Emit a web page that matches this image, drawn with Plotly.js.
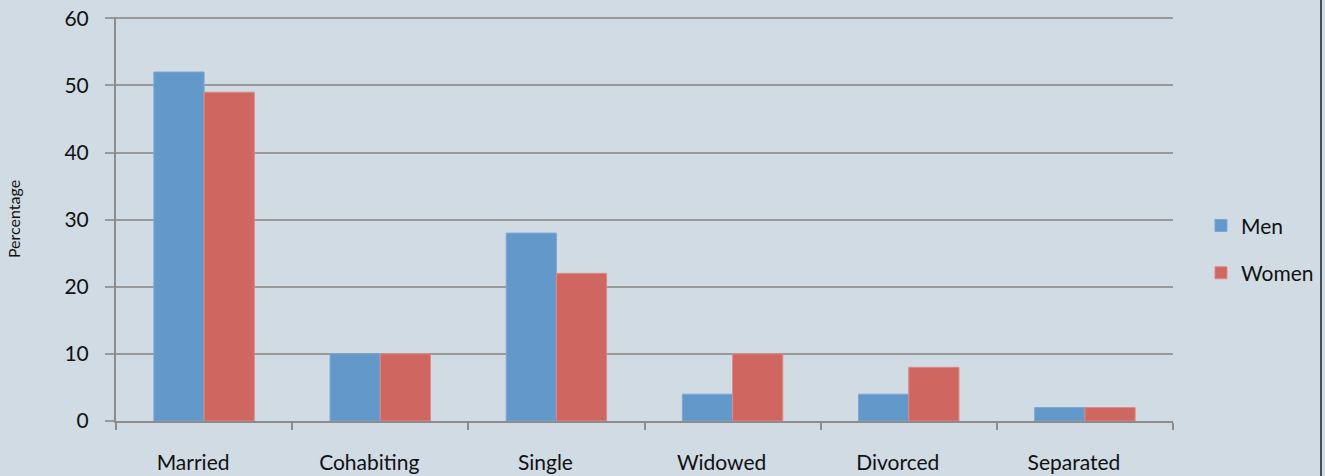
<!DOCTYPE html>
<html>
<head>
<meta charset="utf-8">
<script src="https://cdn.plot.ly/plotly-3.0.1.min.js"></script>
<style>
html,body{margin:0;padding:0;background:#D0DBE4;}
#wrap{position:relative;width:1325px;height:476px;}
#chart{width:1325px;height:476px;}
#edge{position:absolute;left:1320px;top:0;width:2px;height:476px;background:#4a4f55;pointer-events:none;}
</style>
</head>
<body>
<div id="wrap"><div id="chart"></div><div id="edge"></div></div>
<script>
const categories = ["Married", "Cohabiting", "Single", "Widowed", "Divorced", "Separated"];
const menValues = [52, 10, 28, 4, 4, 2];
const womenValues = [49, 10, 22, 10, 8, 2];
const yTicks = [0, 10, 20, 30, 40, 50, 60];

const bg = "#D0DBE4";
const fontFam = "Lato, 'Open Sans', sans-serif";

const traces = [
  {type: "bar", name: "Men", x: categories, y: menValues, legendgroup: "m",
   marker: {color: "#6298CA", line: {color: "#7aa8d4", width: 1}}},
  {type: "bar", name: "Women", x: categories, y: womenValues, legendgroup: "w",
   marker: {color: "#CF665F", line: {color: "#dd8a84", width: 1}}}
];

const layout = {
  width: 1325, height: 476,
  paper_bgcolor: bg, plot_bgcolor: bg,
  margin: {l: 116, r: 152, t: 17, b: 55, autoexpand: false},
  barmode: "group", bargap: 0.43, bargroupgap: 0,
  font: {family: fontFam, size: 21, color: "#111"},
  xaxis: {
    type: "category", tickson: "boundaries", ticks: "outside", ticklen: 7,
    tickcolor: "#8c8c8c", tickwidth: 2, showline: true, linecolor: "#8c8c8c", linewidth: 2,
    showgrid: false, tickfont: {size: 21}, ticklabelstandoff: 22, ticklabelshift: -11
  },
  yaxis: {
    range: [0, 60.2], tickvals: yTicks, ticks: "outside", ticklen: 9, tickcolor: "#999",
    tickwidth: 2, showline: true, linecolor: "#8c8c8c", linewidth: 2,
    gridcolor: "#999", gridwidth: 2, zeroline: false, tickfont: {size: 21},
    ticklabelstandoff: 12,
    title: {text: "Percentage", font: {size: 16}, standoff: 40}
  },
  legend: {xref: "container", x: 0.9064, y: 0.425, xanchor: "left", yanchor: "middle",
    bgcolor: "rgba(0,0,0,0)", font: {size: 21}, tracegroupgap: 17, itemwidth: 30}
};

Plotly.newPlot("chart", traces, layout, {displayModeBar: false, staticPlot: true});
</script>
</body>
</html>
